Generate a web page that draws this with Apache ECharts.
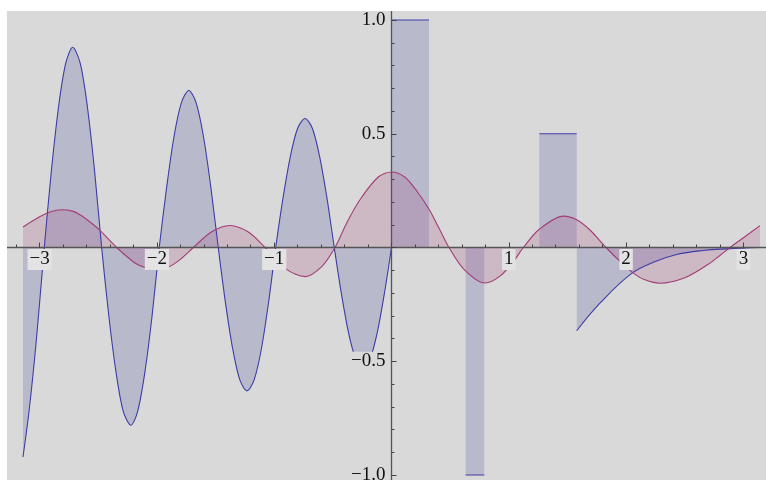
<!DOCTYPE html>
<html><head><meta charset="utf-8">
<script src="https://cdn.jsdelivr.net/npm/echarts@6/dist/echarts.min.js"></script>
<style>html,body{margin:0;padding:0;background:#fff}#c{width:766px;height:480px}</style>
</head><body><div id="c"></div>
<script>
// tick labels shown
const xTickLabels = [-3, -2, -1, 1, 2, 3];
const yTickLabels = [-1.0, -0.5, 0.5, 1.0];

// blue piecewise function
const blueWave = [
  [-3.1416,-0.921],[-3.09,-0.72],[-3.03,-0.42],[-2.96,0],
  [-2.899,0.34],[-2.838,0.62],[-2.777,0.81],[-2.718,0.88],[-2.654,0.81],[-2.593,0.62],[-2.532,0.34],[-2.471,0],
  [-2.41,-0.30],[-2.348,-0.55],[-2.287,-0.72],[-2.221,-0.781],[-2.164,-0.72],[-2.103,-0.55],[-2.041,-0.30],[-1.98,0],
  [-1.917,0.264],[-1.854,0.488],[-1.791,0.637],[-1.728,0.69],[-1.666,0.637],[-1.603,0.488],[-1.54,0.264],[-1.477,0],
  [-1.416,-0.241],[-1.354,-0.445],[-1.293,-0.582],[-1.232,-0.63],[-1.171,-0.582],[-1.109,-0.445],[-1.048,-0.241],[-0.987,0],
  [-0.925,0.217],[-0.862,0.401],[-0.8,0.524],[-0.737,0.567],[-0.675,0.524],[-0.613,0.401],[-0.55,0.217],[-0.488,0],
  [-0.427,-0.203],[-0.366,-0.375],[-0.305,-0.49],[-0.244,-0.53],[-0.183,-0.49],[-0.122,-0.375],[-0.061,-0.203],[0,0]
];
const blueStepA = [[0,1],[0.32,1]];
const blueStepB = [[0.32,0],[0.632,0]];
const blueStepC = [[0.632,-1],[0.791,-1]];
const blueStepD = [[0.791,0],[1.26,0]];
const blueStepE = [[1.26,0.5],[1.579,0.5]];
const blueDecay = [
  [1.579,-0.366],[1.777,-0.245],[2.042,-0.116],[2.232,-0.065],[2.431,-0.031],
  [2.658,-0.013],[2.858,-0.006],[3.1416,0]
];

// purple smooth curve
const purpleCurve = [
  [-3.1416,0.09],[-3.0,0.135],[-2.9,0.158],[-2.812,0.166],[-2.72,0.16],[-2.656,0.144],[-2.57,0.112],
  [-2.485,0.075],[-2.343,0],[-2.187,-0.068],[-2.101,-0.088],[-2.01,-0.097],[-1.903,-0.086],
  [-1.8,-0.052],[-1.69,0],[-1.53,0.07],[-1.377,0.097],[-1.22,0.068],[-1.078,0],
  [-0.894,-0.096],[-0.737,-0.128],[-0.595,-0.084],[-0.482,0],[-0.38,0.11],[-0.269,0.21],
  [-0.113,0.31],[0,0.332],[0.113,0.31],[0.22,0.245],[0.32,0.168],[0.4,0.09],[0.49,0],
  [0.62,-0.097],[0.797,-0.156],[0.925,-0.126],[1.04,-0.061],[1.124,0],[1.26,0.08],
  [1.465,0.138],[1.579,0.122],[1.692,0.077],[1.829,0],[1.962,-0.068],[2.05,-0.108],
  [2.15,-0.14],[2.289,-0.157],[2.5,-0.133],[2.7,-0.074],[2.8,-0.035],[2.886,0],
  [3.0,0.043],[3.1416,0.096]
];

const BLUE = '#3c3ca6', BLUE_FILL = 'rgba(61,61,153,0.2)';
const PURP = '#a23c76', PURP_FILL = 'rgba(153,61,117,0.2)';
const FONT = 'Liberation Serif';

// pixel geometry of the reference plot
const X0 = 391.5, XS = 117.3, Y0 = 247.5, YS = 227.5;

function mk(data, color, fill, smooth) {
  return {
    type: 'line', data: data, smooth: smooth, symbol: 'none', showSymbol: false,
    silent: true, z: 2, xAxisIndex: 0, yAxisIndex: 0,
    lineStyle: { color: color, width: 1.1 },
    areaStyle: { color: fill, opacity: 1 }
  };
}
function fmt(v) { return String(v).replace('-', '\u2212'); }
const hidden = { show: false };
const tickStyle = { color: '#444444', width: 1 };

const chart = echarts.init(document.getElementById('c'), null, { renderer: 'canvas' });
chart.setOption({
  animation: false,
  backgroundColor: '#ffffff',
  graphic: [
    { type: 'rect', z: -100, silent: true, shape: { x: 7, y: 11, width: 759, height: 469 }, style: { fill: '#d9d9d9' } },
    { type: 'rect', z: 100, silent: true, shape: { x: 0, y: 0, width: 766, height: 11 }, style: { fill: '#ffffff' } },
    { type: 'rect', z: 100, silent: true, shape: { x: 0, y: 0, width: 7, height: 480 }, style: { fill: '#ffffff' } }
  ],
  grid: [
    { left: 7, right: 0, top: 11, bottom: 0, outerBoundsMode: 'none', containLabel: false },
    { left: X0 - 4 * XS, right: 766 - (X0 + 4 * XS), top: 100, bottom: 480 - Y0, outerBoundsMode: 'none', containLabel: false },
    { left: X0, right: 0, top: Y0 - 1.5 * YS, bottom: 480 - (Y0 + 1.5 * YS), outerBoundsMode: 'none', containLabel: false }
  ],
  xAxis: [
    { gridIndex: 0, type: 'value', min: (7 - X0) / XS, max: (766 - X0) / XS, show: false },
    {
      gridIndex: 1, type: 'value', min: -4, max: 4, interval: 1, z: 10, position: 'bottom',
      axisLine: { onZero: false, lineStyle: { color: '#555555', width: 1.3 } },
      axisTick: { show: true, inside: true, length: 5, lineStyle: tickStyle },
      minorTick: { show: true, splitNumber: 5, length: 3, lineStyle: tickStyle },
      splitLine: hidden, minorSplitLine: hidden,
      axisLabel: {
        margin: 2,
        formatter: function (v) {
          const r = Math.round(v);
          if (xTickLabels.indexOf(r) < 0 || Math.abs(v - r) > 1e-6) return '';
          return '{b|' + fmt(r) + '}';
        },
        rich: { b: { backgroundColor: '#e3e3e3', padding: [1, 2, 1, 2], lineHeight: 20,
                     fontFamily: FONT, fontSize: 19, color: '#111111' } }
      }
    },
    { gridIndex: 2, type: 'value', min: 0, max: 1, show: false }
  ],
  yAxis: [
    { gridIndex: 0, type: 'value', min: (Y0 - 480) / YS, max: (Y0 - 11) / YS, show: false },
    { gridIndex: 1, type: 'value', min: 0, max: 1, show: false },
    {
      gridIndex: 2, type: 'value', min: -1.5, max: 1.5, interval: 0.5, z: 10, position: 'left',
      axisLine: { onZero: false, lineStyle: { color: '#555555', width: 1.3 } },
      axisTick: { show: true, inside: true, length: 5, lineStyle: tickStyle },
      minorTick: { show: true, splitNumber: 5, length: 3, lineStyle: tickStyle },
      splitLine: hidden, minorSplitLine: hidden,
      axisLabel: {
        margin: 5,
        formatter: function (v) {
          const r = Math.round(v * 10) / 10;
          const ok = yTickLabels.some(function (t) { return Math.abs(t - r) < 1e-6; });
          if (!ok) return '';
          return '{b|' + fmt(r.toFixed(1)) + '}';
        },
        rich: { b: { backgroundColor: '#d9d9d9', padding: [0, 1, 0, 1], lineHeight: 17,
                     fontFamily: FONT, fontSize: 19, color: '#111111' } }
      }
    }
  ],
  series: [
    mk(blueWave, BLUE, BLUE_FILL, 0.3),
    mk(blueStepA, BLUE, BLUE_FILL, false),
    mk(blueStepB, BLUE, BLUE_FILL, false),
    mk(blueStepC, BLUE, BLUE_FILL, false),
    mk(blueStepD, BLUE, BLUE_FILL, false),
    mk(blueStepE, BLUE, BLUE_FILL, false),
    mk(blueDecay, BLUE, BLUE_FILL, 0.4),
    mk(purpleCurve, PURP, PURP_FILL, 0.3)
  ]
});
</script>
</body></html>
